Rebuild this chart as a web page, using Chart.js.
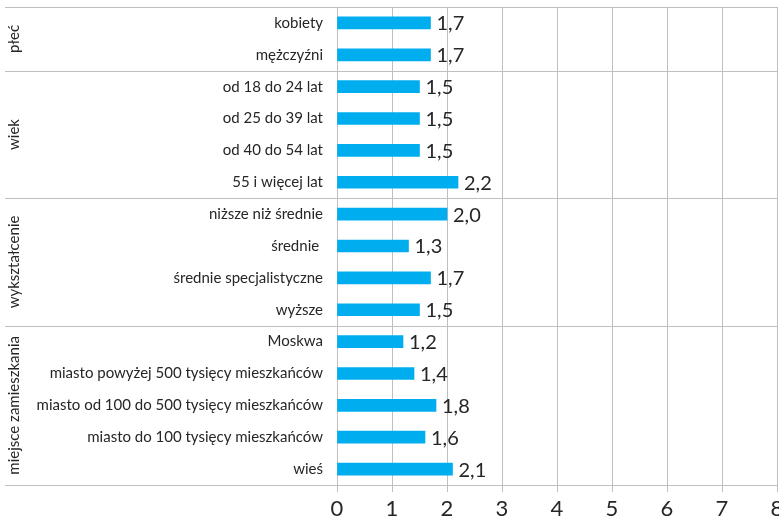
<!DOCTYPE html>
<html><head><meta charset="utf-8">
<script src="https://cdn.jsdelivr.net/npm/chart.js@4/dist/chart.umd.min.js"></script>
<style>
html,body{margin:0;padding:0;overflow:hidden;background:#fff;width:779px;height:521px}
#wrap{position:relative;width:779px;height:521px}
</style>
</head><body><div id="wrap"><canvas id="c"></canvas></div>
<script>
const categories = [
  'kobiety', 'mężczyźni',
  'od 18 do 24 lat', 'od 25 do 39 lat', 'od 40 do 54 lat', '55 i więcej lat',
  'niższe niż średnie', 'średnie ', 'średnie specjalistyczne', 'wyższe',
  'Moskwa', 'miasto powyżej 500 tysięcy mieszkańców', 'miasto od 100 do 500 tysięcy mieszkańców', 'miasto do 100 tysięcy mieszkańców', 'wieś'
];
const values = [1.7, 1.7, 1.5, 1.5, 1.5, 2.2, 2.0, 1.3, 1.7, 1.5, 1.2, 1.4, 1.8, 1.6, 2.1];
const groupNames = ['płeć', 'wiek', 'wykształcenie', 'miejsce zamieszkania'];
const groupSizes = [2, 4, 4, 5];
const xTickValues = [0, 1, 2, 3, 4, 5, 6, 7, 8];

const FONT = 'Lato, "Open Sans", sans-serif';
const TEXT = '#262626';
const GRID = '#bfbfbf';

const groupPlugin = {
  id: 'groups',
  afterDraw(chart) {
    const ctx = chart.ctx;
    const ys = chart.scales.y;
    const area = chart.chartArea;
    const step = ys.getPixelForValue(1) - ys.getPixelForValue(0);
    ctx.save();
    ctx.strokeStyle = GRID;
    ctx.lineWidth = 1;
    let start = 0;
    const bounds = [ys.getPixelForValue(0) - step / 2];
    groupSizes.forEach(n => { start += n; bounds.push(ys.getPixelForValue(start - 1) + step / 2); });
    bounds.forEach(y => {
      const yy = Math.round(y) + 0.5;
      ctx.beginPath(); ctx.moveTo(5, yy); ctx.lineTo(area.right, yy); ctx.stroke();
    });
    ctx.fillStyle = TEXT;
    ctx.font = '15px ' + FONT;
    ctx.textAlign = 'center';
    ctx.textBaseline = 'middle';
    groupNames.forEach((g, i) => {
      const cy = (bounds[i] + bounds[i + 1]) / 2;
      ctx.save();
      ctx.translate(14, cy);
      ctx.rotate(-Math.PI / 2);
      ctx.fillText(g, 0, 0);
      ctx.restore();
    });
    // data labels
    const meta = chart.getDatasetMeta(0);
    ctx.font = '20px ' + FONT;
    ctx.textAlign = 'left';
    meta.data.forEach((bar, i) => {
      ctx.fillText(values[i].toFixed(1).replace('.', ','), bar.x + 6, bar.y + 1);
    });
    ctx.restore();
  }
};

new Chart(document.getElementById('c'), {
  type: 'bar',
  data: {
    labels: categories,
    datasets: [{ data: values, backgroundColor: '#00aeef', barThickness: 12 }]
  },
  options: {
    indexAxis: 'y',
    responsive: true,
    maintainAspectRatio: false,
    animation: false,
    devicePixelRatio: 1,
    layout: { padding: { top: 7, left: 0, right: 2, bottom: 0 } },
    plugins: { legend: { display: false }, tooltip: { enabled: false } },
    scales: {
      x: {
        min: 0, max: 8,
        afterBuildTicks(scale) { scale.ticks = xTickValues.map(v => ({ value: v })); },
        ticks: { font: { size: 22, family: FONT }, color: TEXT, padding: 4,
                 callback: v => String(v), maxRotation: 0 },
        grid: { color: GRID, lineWidth: 1, tickLength: 7 },
        border: { display: false },
        afterFit(scale) { scale.height = 36; scale.paddingLeft = 0; scale.paddingRight = 0; }
      },
      y: {
        grid: { display: false, drawTicks: false },
        border: { display: false },
        ticks: { font: { size: 15, family: FONT }, color: TEXT, padding: 14, autoSkip: false },
        afterFit(scale) { scale.width = 337; scale.paddingTop = 0; scale.paddingBottom = 0; }
      }
    }
  },
  plugins: [groupPlugin]
});
</script>
</body></html>
